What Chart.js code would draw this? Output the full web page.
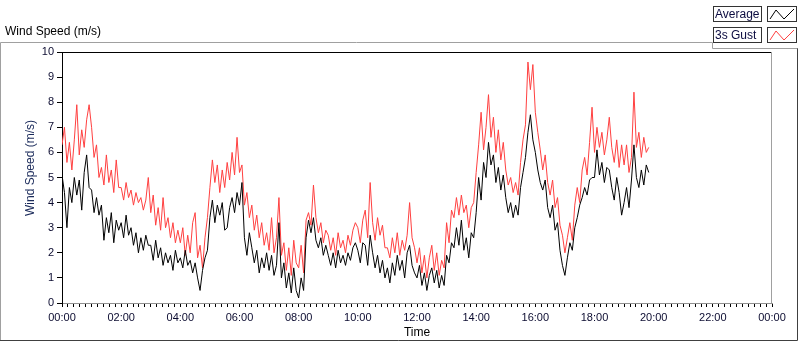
<!DOCTYPE html>
<html><head><meta charset="utf-8">
<script src="https://cdn.jsdelivr.net/npm/chart.js@4.4.1/dist/chart.umd.min.js"></script>
<style>html,body{margin:0;padding:0;background:#fff;overflow:hidden}canvas{display:block}</style>
</head><body>
<canvas id="c" width="800" height="342"></canvas>
<script>
// ---- data (5-minute samples starting 00:00) ----
const startMinute = 0;
const stepMinutes = 5;
const average = [
 5.1,4.4,3.0,4.6,4.0,5.0,4.3,4.9,3.7,5.2,5.9,4.6,
 4.5,3.6,4.2,3.5,3.9,2.5,3.4,2.8,3.6,2.4,3.3,2.9,
 3.2,2.6,3.5,2.7,3.0,2.3,2.8,2.0,2.6,2.1,2.7,2.3,
 2.3,1.7,2.5,1.8,2.2,1.5,2.0,1.6,1.9,1.3,2.1,1.6,
 1.8,1.4,2.1,1.5,1.7,1.2,1.6,1.0,0.5,1.3,1.8,2.1,
 3.4,4.1,3.2,3.9,3.5,4.0,2.9,3.0,3.8,4.2,3.6,4.4,
 3.9,4.8,2.6,1.9,2.8,2.2,1.6,2.1,1.2,1.8,1.4,2.0,
 1.3,1.9,1.1,1.5,3.2,1.0,1.6,0.6,1.2,0.4,1.4,0.5,
 0.2,1.0,0.5,2.6,3.3,2.8,3.4,2.5,2.2,2.6,1.9,2.3,
 1.9,1.5,2.0,1.4,2.1,1.6,1.9,1.5,2.0,1.7,2.2,2.4,
 2.1,1.6,2.4,2.3,1.5,2.7,2.0,1.4,1.9,1.2,1.7,1.0,
 1.4,0.8,1.6,1.1,1.9,1.3,1.7,1.0,2.0,2.3,1.5,1.2,
 1.0,1.5,0.7,1.2,0.5,1.1,1.4,0.8,1.3,0.6,1.1,0.7,
 1.9,1.6,2.4,2.2,3.0,2.3,3.3,2.1,2.6,1.8,2.8,2.6,
 3.6,5.0,4.1,5.6,5.0,6.4,5.5,5.9,4.8,5.4,4.5,5.1,
 4.2,3.6,4.0,3.4,3.9,3.5,4.6,5.2,5.8,6.8,7.5,6.5,
 6.0,5.3,4.8,4.5,4.9,3.8,3.4,3.9,2.9,3.2,2.1,1.5,
 1.1,1.8,2.4,2.1,3.0,3.4,3.9,4.2,4.6,4.3,4.9,5.0,
 5.0,6.1,5.1,5.6,4.8,5.4,5.3,4.6,4.1,5.0,4.4,3.5,
 4.0,4.6,3.8,4.9,6.3,5.0,4.6,5.3,4.7,5.5,5.2
];
const gust = [
 6.3,7.0,5.6,6.4,5.3,6.5,7.9,5.9,6.9,6.2,7.3,7.9,
 7.0,5.8,6.3,5.0,5.4,4.7,5.9,4.8,5.3,4.4,5.7,4.6,
 4.6,4.1,4.8,4.2,4.5,3.9,4.4,4.0,4.2,3.7,4.1,5.0,
 3.6,4.3,3.1,3.8,2.9,4.2,3.0,3.4,2.6,3.2,2.4,2.9,
 2.4,3.0,1.9,2.7,2.0,3.2,3.6,1.8,2.3,1.4,2.6,3.4,
 4.6,5.7,4.8,5.5,4.4,5.3,4.6,5.6,4.9,6.0,5.1,6.6,
 5.2,5.5,3.9,4.4,3.4,3.9,2.9,3.5,2.6,3.2,2.3,2.8,
 2.1,3.4,2.0,2.6,4.2,1.9,2.4,1.3,2.2,1.1,2.5,1.6,
 1.4,2.3,1.2,3.3,3.6,3.1,4.7,3.4,2.8,3.2,2.4,2.9,
 2.7,2.1,2.6,1.9,2.8,2.2,2.5,2.0,2.7,2.3,2.9,3.2,
 3.0,2.4,3.3,3.7,2.6,4.8,3.2,2.5,3.4,2.7,3.1,2.2,
 2.2,1.8,2.6,2.0,2.8,1.9,2.5,2.1,2.7,4.0,2.6,2.2,
 1.6,2.2,1.2,1.9,1.0,1.8,2.3,1.3,2.0,1.1,1.7,1.4,
 3.2,2.4,3.7,3.4,4.2,3.5,4.3,3.6,3.9,3.0,3.8,4.0,
 5.2,6.3,7.6,6.1,7.0,8.3,6.6,7.4,6.0,6.9,5.7,6.4,
 5.3,4.7,5.0,4.4,4.8,4.3,5.6,6.5,7.1,9.6,8.5,9.5,
 7.6,6.8,6.1,5.3,5.9,4.8,4.3,4.9,3.8,4.2,3.1,2.7,
 2.0,2.6,3.2,2.5,3.9,4.6,4.0,5.3,5.8,5.1,6.4,7.8,
 6.0,7.0,6.2,6.8,5.9,6.5,7.4,6.2,5.6,6.5,5.4,6.3,
 5.5,6.3,5.2,5.8,8.4,6.2,6.8,5.8,6.6,6.0,6.2
];
const seriesNames = ['Average', '3s Gust'];
const xTickLabels = ['00:00','02:00','04:00','06:00','08:00','10:00','12:00','14:00','16:00','18:00','20:00','22:00','00:00'];
const yTickLabels = ['0','1','2','3','4','5','6','7','8','9','10'];
const plotTitle = 'Wind Speed (m/s)';
const yTitle = 'Wind Speed (m/s)';
const xTitle = 'Time';

// ---- build points ----
const toPts = arr => arr.map((v, i) => ({x: startMinute + i * stepMinutes, y: v}));
const FONT = 'Liberation Sans';
const TEXT = '#0b0b30';
const RED = '#ff4040';

const decor = {
  id: 'decor',
  beforeDraw(chart) {
    const ctx = chart.ctx;
    ctx.save(); ctx.fillStyle = '#fff'; ctx.fillRect(0, 0, chart.width, chart.height); ctx.restore();
  },
  afterDraw(chart) {
    const {ctx, chartArea: a} = chart;
    ctx.save();
    ctx.lineWidth = 1;
    // outer frame
    ctx.strokeStyle = '#a0a0a0';
    ctx.beginPath();
    ctx.moveTo(0.5, 341); ctx.lineTo(0.5, 42.5); ctx.lineTo(712.5, 42.5);
    ctx.lineTo(712.5, 48.5); ctx.lineTo(798, 48.5);
    ctx.stroke();
    ctx.strokeStyle = '#404040';
    ctx.beginPath();
    ctx.moveTo(797.5, 48.5); ctx.lineTo(797.5, 340.5); ctx.lineTo(0, 340.5);
    ctx.stroke();
    // plot area top/right borders
    ctx.strokeStyle = '#000';
    ctx.beginPath(); ctx.moveTo(a.left, a.top + 0.5); ctx.lineTo(a.right, a.top + 0.5); ctx.stroke();
    ctx.strokeStyle = '#a0a0a0';
    ctx.beginPath(); ctx.moveTo(a.right - 0.5, a.top); ctx.lineTo(a.right - 0.5, a.bottom); ctx.stroke();
    // plot title
    ctx.font = '12px "' + FONT + '"';
    ctx.fillStyle = '#000';
    ctx.textBaseline = 'middle';
    ctx.textAlign = 'left';
    ctx.fillText(plotTitle, 5, 32);
    // y-axis title
    ctx.save();
    ctx.translate(31, 168);
    ctx.rotate(-Math.PI / 2);
    ctx.textAlign = 'center';
    ctx.fillStyle = '#1a2a5a';
    ctx.fillText(yTitle, 0, 0);
    ctx.restore();
    // legend
    const colors = ['#000', RED];
    const rowsY = [6, 27];
    seriesNames.forEach((name, i) => {
      const y = rowsY[i];
      ctx.fillStyle = '#fff';
      ctx.fillRect(714, y + 1, 47, 14);
      ctx.strokeStyle = '#333';
      ctx.strokeRect(713.5, y + 0.5, 48, 15);
      ctx.strokeRect(767.5, y + 0.5, 29, 15);
      ctx.fillStyle = '#0b0b40';
      ctx.textAlign = 'left';
      ctx.fillText(name, 715, y + 8.5);
      ctx.strokeStyle = colors[i];
      ctx.beginPath();
      ctx.moveTo(770, y + 13); ctx.lineTo(776, y + 4); ctx.lineTo(784, y + 13); ctx.lineTo(794, y + 3);
      ctx.stroke();
    });
    ctx.restore();
  }
};

new Chart(document.getElementById('c'), {
  type: 'line',
  data: {
    datasets: [
      {label: seriesNames[0], data: toPts(average), borderColor: '#000', borderWidth: 1, pointRadius: 0, tension: 0, fill: false},
      {label: seriesNames[1], data: toPts(gust), borderColor: RED, borderWidth: 1, pointRadius: 0, tension: 0, fill: false}
    ]
  },
  options: {
    responsive: false,
    devicePixelRatio: 1,
    animation: false,
    events: [],
    layout: {padding: {top: 52, right: 28, left: 0, bottom: 0}},
    plugins: {legend: {display: false}, tooltip: {enabled: false}, title: {display: false}},
    scales: {
      x: {
        type: 'linear', min: 0, max: 1440,
        afterFit(s) { s.height = 39; },
        grid: {drawOnChartArea: false, drawTicks: true, tickLength: 4, tickColor: '#000', tickWidth: 1},
        border: {display: true, color: '#909090', width: 1},
        ticks: {
          stepSize: 12, autoSkip: false, maxRotation: 0, padding: 4,
          color: TEXT, font: {family: FONT, size: 11},
          callback: v => (v % 120 === 0 ? xTickLabels[v / 120] : '')
        },
        title: {display: true, text: xTitle, color: '#000', font: {family: FONT, size: 12}, padding: {top: 0, bottom: 2}}
      },
      y: {
        min: 0, max: 10,
        afterFit(s) { s.width = 62; },
        grid: {drawOnChartArea: false, drawTicks: true, tickLength: 5, tickColor: '#000'},
        border: {display: true, color: '#000', width: 1},
        ticks: {stepSize: 1, padding: 3, color: TEXT, font: {family: FONT, size: 11},
          callback: v => yTickLabels[v]}
      }
    }
  },
  plugins: [decor]
});
</script>
</body></html>
